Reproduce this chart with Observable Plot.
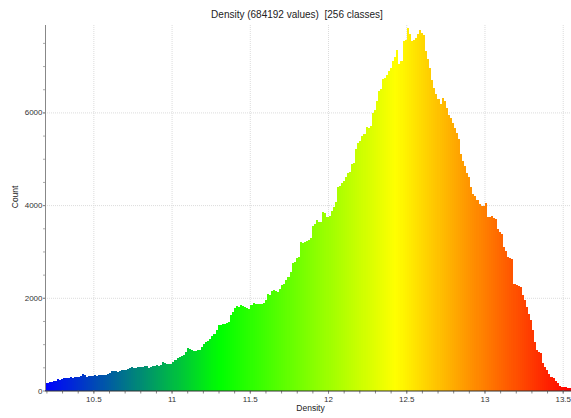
<!DOCTYPE html>
<html>
<head>
<meta charset="utf-8">
<script src="https://cdn.jsdelivr.net/npm/d3@7"></script>
<script src="https://cdn.jsdelivr.net/npm/@observablehq/plot@0.6"></script>
<style>
  body { margin: 0; width: 571px; height: 418px; overflow: hidden; background: #fff; font-family: "Liberation Sans", Arial, sans-serif; }
  #title { height: 23px; width: 594px; text-align: center; font-size: 10px; line-height: 12px; padding-top: 9px; box-sizing: border-box; color: #222; white-space: pre; }
  #chart svg { overflow: visible; display: block; }
</style>
</head>
<body>
<div id="title">Density (684192 values)  [256 classes]</div>
<div id="chart"></div>
<script>
// Histogram counts (256 classes)
const counts = [
  165,172,180,190,200,215,240,230,250,265,
  276,270,285,280,290,297,300,310,355,340,
  300,318,305,312,325,318,333,340,330,345,
  360,385,426,410,420,405,430,441,435,450,
  470,480,499,485,495,510,500,515,527,520,
  491,505,525,520,540,534,560,613,600,580,
  563,575,620,660,699,720,750,763,840,907,
  900,880,856,850,865,871,940,1014,1040,1071,
  1110,1180,1229,1300,1408,1420,1444,1430,1460,1480,
  1623,1700,1789,1820,1810,1838,1830,1800,1790,1767,
  1850,1888,1870,1860,1875,1860,1880,1960,2075,2060,
  2140,2175,2150,2124,2200,2268,2300,2380,2447,2560,
  2748,2780,2864,2870,3199,3180,3210,3236,3250,3294,
  3558,3600,3681,3640,3629,3844,3830,3737,3760,3881,
  3950,4059,4382,4420,4480,4511,4600,4683,4720,4885,
  4900,5200,5349,5380,5493,5530,5687,5659,5700,5994,
  6050,6246,6461,6500,6712,6750,6800,6891,6950,7106,
  7200,7357,7035,7100,7536,7572,7822,7700,7536,7560,
  7607,7700,7787,7720,7680,7321,7150,6962,6700,6532,
  6390,6300,6175,6304,6250,6102,5950,5887,5780,5672,
  5550,5422,5100,4950,4848,4700,4597,4382,4250,4203,
  4100,4025,3980,3988,4038,3737,3737,3760,3720,3702,
  3487,3420,3380,3092,3000,2877,2860,2842,2305,2280,
  2250,2232,2053,1950,1802,1650,1516,1301,1050,871,
  820,800,585,500,441,355,300,262,200,155,
  100,82,70,69,55,47
];
const valueMin = 10.191;   // lowest density value
const valueMax = 13.553;   // highest density value
const countMax = 7886;
const xTickLabels = [10.5, 11, 11.5, 12, 12.5, 13, 13.5];
const xMinorTicks = d3.range(102, 136).map(d => d / 10);
const yTickLabels = [0, 2000, 4000, 6000];
const yMinorTicks = d3.range(500, 7886, 500);
const colorStops = ["#0000ff", "#00ff00", "#ffff00", "#ff0000"];

const nBins = counts.length;
const binW = (valueMax - valueMin) / nBins;
const bins = counts.map((c, i) => ({
  x1: valueMin + i * binW,
  x2: valueMin + (i + 1) * binW,
  mid: valueMin + (i + 0.5) * binW,
  count: c
}));
const span = valueMax - valueMin;

const chart = Plot.plot({
  width: 571,
  height: 395,
  marginTop: 2,
  marginBottom: 27.5,
  marginLeft: 45,
  marginRight: 0,
  x: { domain: [valueMin, valueMax], label: null },
  y: { domain: [0, countMax], label: null },
  color: {
    type: "linear",
    domain: [valueMin, valueMin + span / 3, valueMin + 2 * span / 3, valueMax],
    range: colorStops,
    interpolate: "rgb"
  },
  style: { fontFamily: "'Liberation Sans', Arial, sans-serif", fontSize: "8px", color: "#333", background: "transparent" },
  marks: [
    Plot.gridX(xTickLabels, { stroke: "#dcdcdc", strokeOpacity: 1, strokeDasharray: "1,1" }),
    Plot.gridY(yTickLabels.filter(d => d > 0), { stroke: "#dcdcdc", strokeOpacity: 1, strokeDasharray: "1,1" }),
    Plot.rectY(bins, { x1: "x1", x2: "x2", y: "count", fill: "mid", shapeRendering: "crispEdges" }),
    Plot.axisX({ ticks: xMinorTicks, tickSize: 3, tickFormat: () => "", stroke: "#888", label: null }),
    Plot.axisX({ ticks: xTickLabels, tickSize: 3, tickPadding: 2, tickFormat: d => String(d), fontSize: 8, stroke: "#888", fill: "#333", label: null }),
    Plot.axisY({ ticks: yMinorTicks, tickSize: 2, tickFormat: () => "", stroke: "#aaa", label: null }),
    Plot.axisY({ ticks: yTickLabels, tickSize: 2, tickPadding: 1, tickFormat: d => String(d), fontSize: 8, stroke: "#888", fill: "#333", label: null }),
    Plot.ruleX([valueMin], { stroke: "#888" }),
    Plot.ruleY([0], { stroke: "#333" }),
    Plot.text(["Count"], { frameAnchor: "left", dx: -30, rotate: -90, fontSize: 8.5, fill: "#222" }),
    Plot.text(["Density"], { frameAnchor: "bottom", dx: 2, dy: 20, fontSize: 8.5, fill: "#222" })
  ]
});
document.getElementById("chart").appendChild(chart);
</script>
</body>
</html>
